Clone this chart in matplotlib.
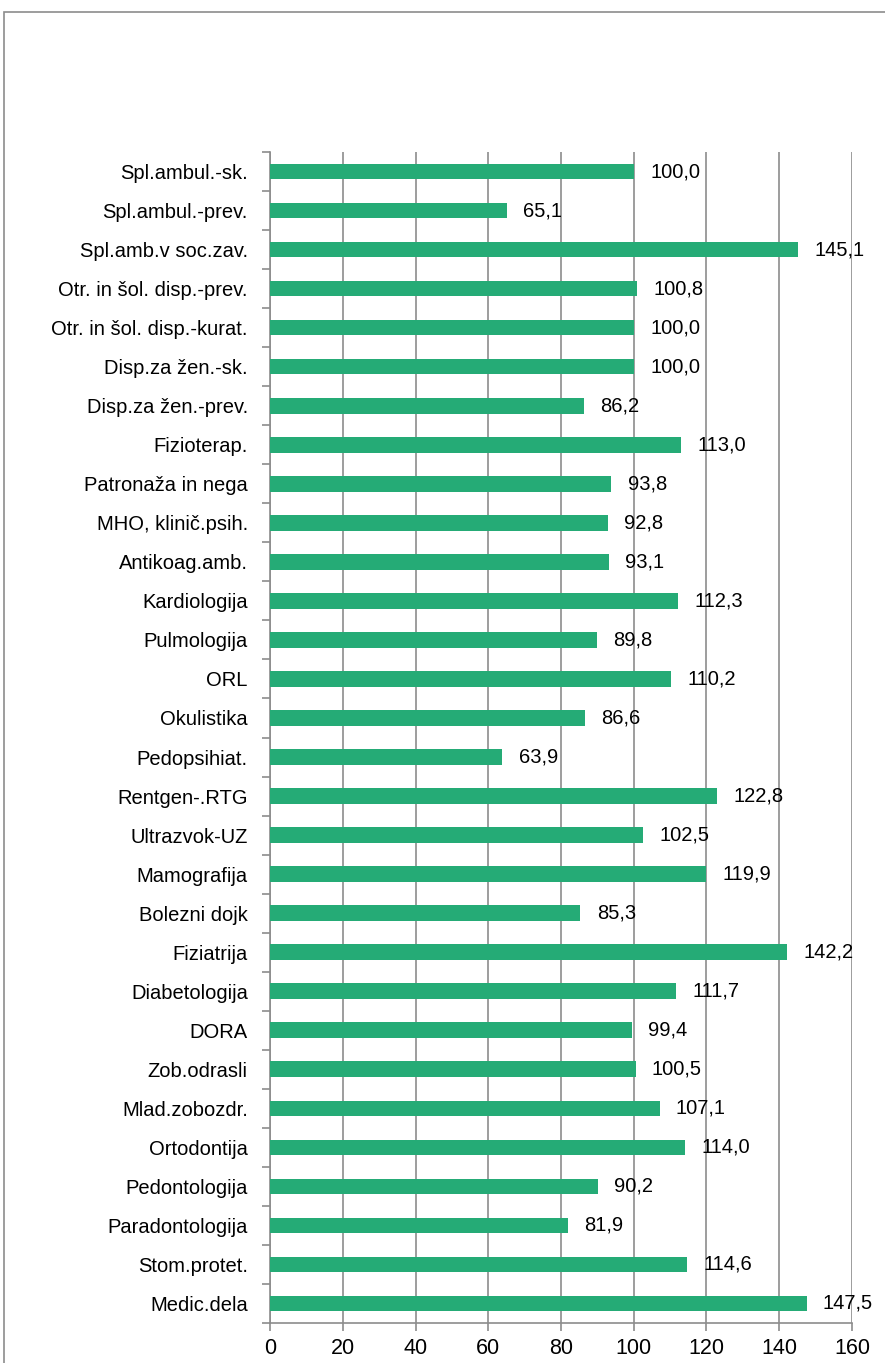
import numpy as np
import matplotlib
matplotlib.use('Agg')
import matplotlib.pyplot as plt
from matplotlib.patches import Rectangle

categories = ['Spl.ambul.-sk.', 'Spl.ambul.-prev.', 'Spl.amb.v soc.zav.',
              'Otr. in šol. disp.-prev.', 'Otr. in šol. disp.-kurat.',
              'Disp.za žen.-sk.', 'Disp.za žen.-prev.', 'Fizioterap.',
              'Patronaža in nega', 'MHO, klinič.psih.', 'Antikoag.amb.',
              'Kardiologija', 'Pulmologija', 'ORL', 'Okulistika',
              'Pedopsihiat.', 'Rentgen-.RTG', 'Ultrazvok-UZ', 'Mamografija',
              'Bolezni dojk', 'Fiziatrija', 'Diabetologija', 'DORA',
              'Zob.odrasli', 'Mlad.zobozdr.', 'Ortodontija', 'Pedontologija',
              'Paradontologija', 'Stom.protet.', 'Medic.dela']
values = [100.0, 65.1, 145.1, 100.8, 100.0, 100.0, 86.2, 113.0, 93.8, 92.8,
          93.1, 112.3, 89.8, 110.2, 86.6, 63.9, 122.8, 102.5, 119.9, 85.3,
          142.2, 111.7, 99.4, 100.5, 107.1, 114.0, 90.2, 81.9, 114.6, 147.5]
xticks = [0, 20, 40, 60, 80, 100, 120, 140, 160]

plt.rcParams['font.family'] = ['Liberation Sans', 'DejaVu Sans']

fig = plt.figure(figsize=(8.85, 13.63), dpi=100)
ax = fig.add_axes([270 / 885, 40 / 1363, (852 - 270) / 885, (1323 - 152) / 1363])

# outer frame like the Excel chart area
fig.patches.append(Rectangle((4 / 885, -0.05), 1.2, 1 - 12 / 1363 + 0.05,
                             transform=fig.transFigure, fill=False,
                             edgecolor='#8c8c8c', linewidth=1.2))

n = len(categories)
y = np.arange(n)[::-1]
ax.barh(y, values, height=0.4, color='#25AB76', zorder=3)

for yi, v in zip(y, values):
    ax.text(v + 4.5, yi, f'{v:.1f}'.replace('.', ','), va='center', ha='left',
            fontsize=14.5, color='black', zorder=4)

ax.set_xlim(0, 160)
ax.set_ylim(-0.5, n - 0.5)
ax.set_xticks(xticks)
ax.set_xticklabels([str(t) for t in xticks], fontsize=15.5)
ax.set_yticks(y)
ax.set_yticklabels(categories, fontsize=14.5)
ax.tick_params(axis='y', length=0, pad=16)
ax.set_yticks(np.arange(n + 1) - 0.5, minor=True)
ax.tick_params(axis='y', which='minor', length=6, color='#8c8c8c', width=1.2)
ax.tick_params(axis='x', length=6, color='#8c8c8c', width=1.2, pad=5)

ax.grid(axis='x', color='#8c8c8c', linewidth=1.2, zorder=0)
for s in ['top', 'right']:
    ax.spines[s].set_visible(False)
for s in ['left', 'bottom']:
    ax.spines[s].set_color('#8c8c8c')
    ax.spines[s].set_linewidth(1.2)

fig.savefig('out.png', dpi=100)
